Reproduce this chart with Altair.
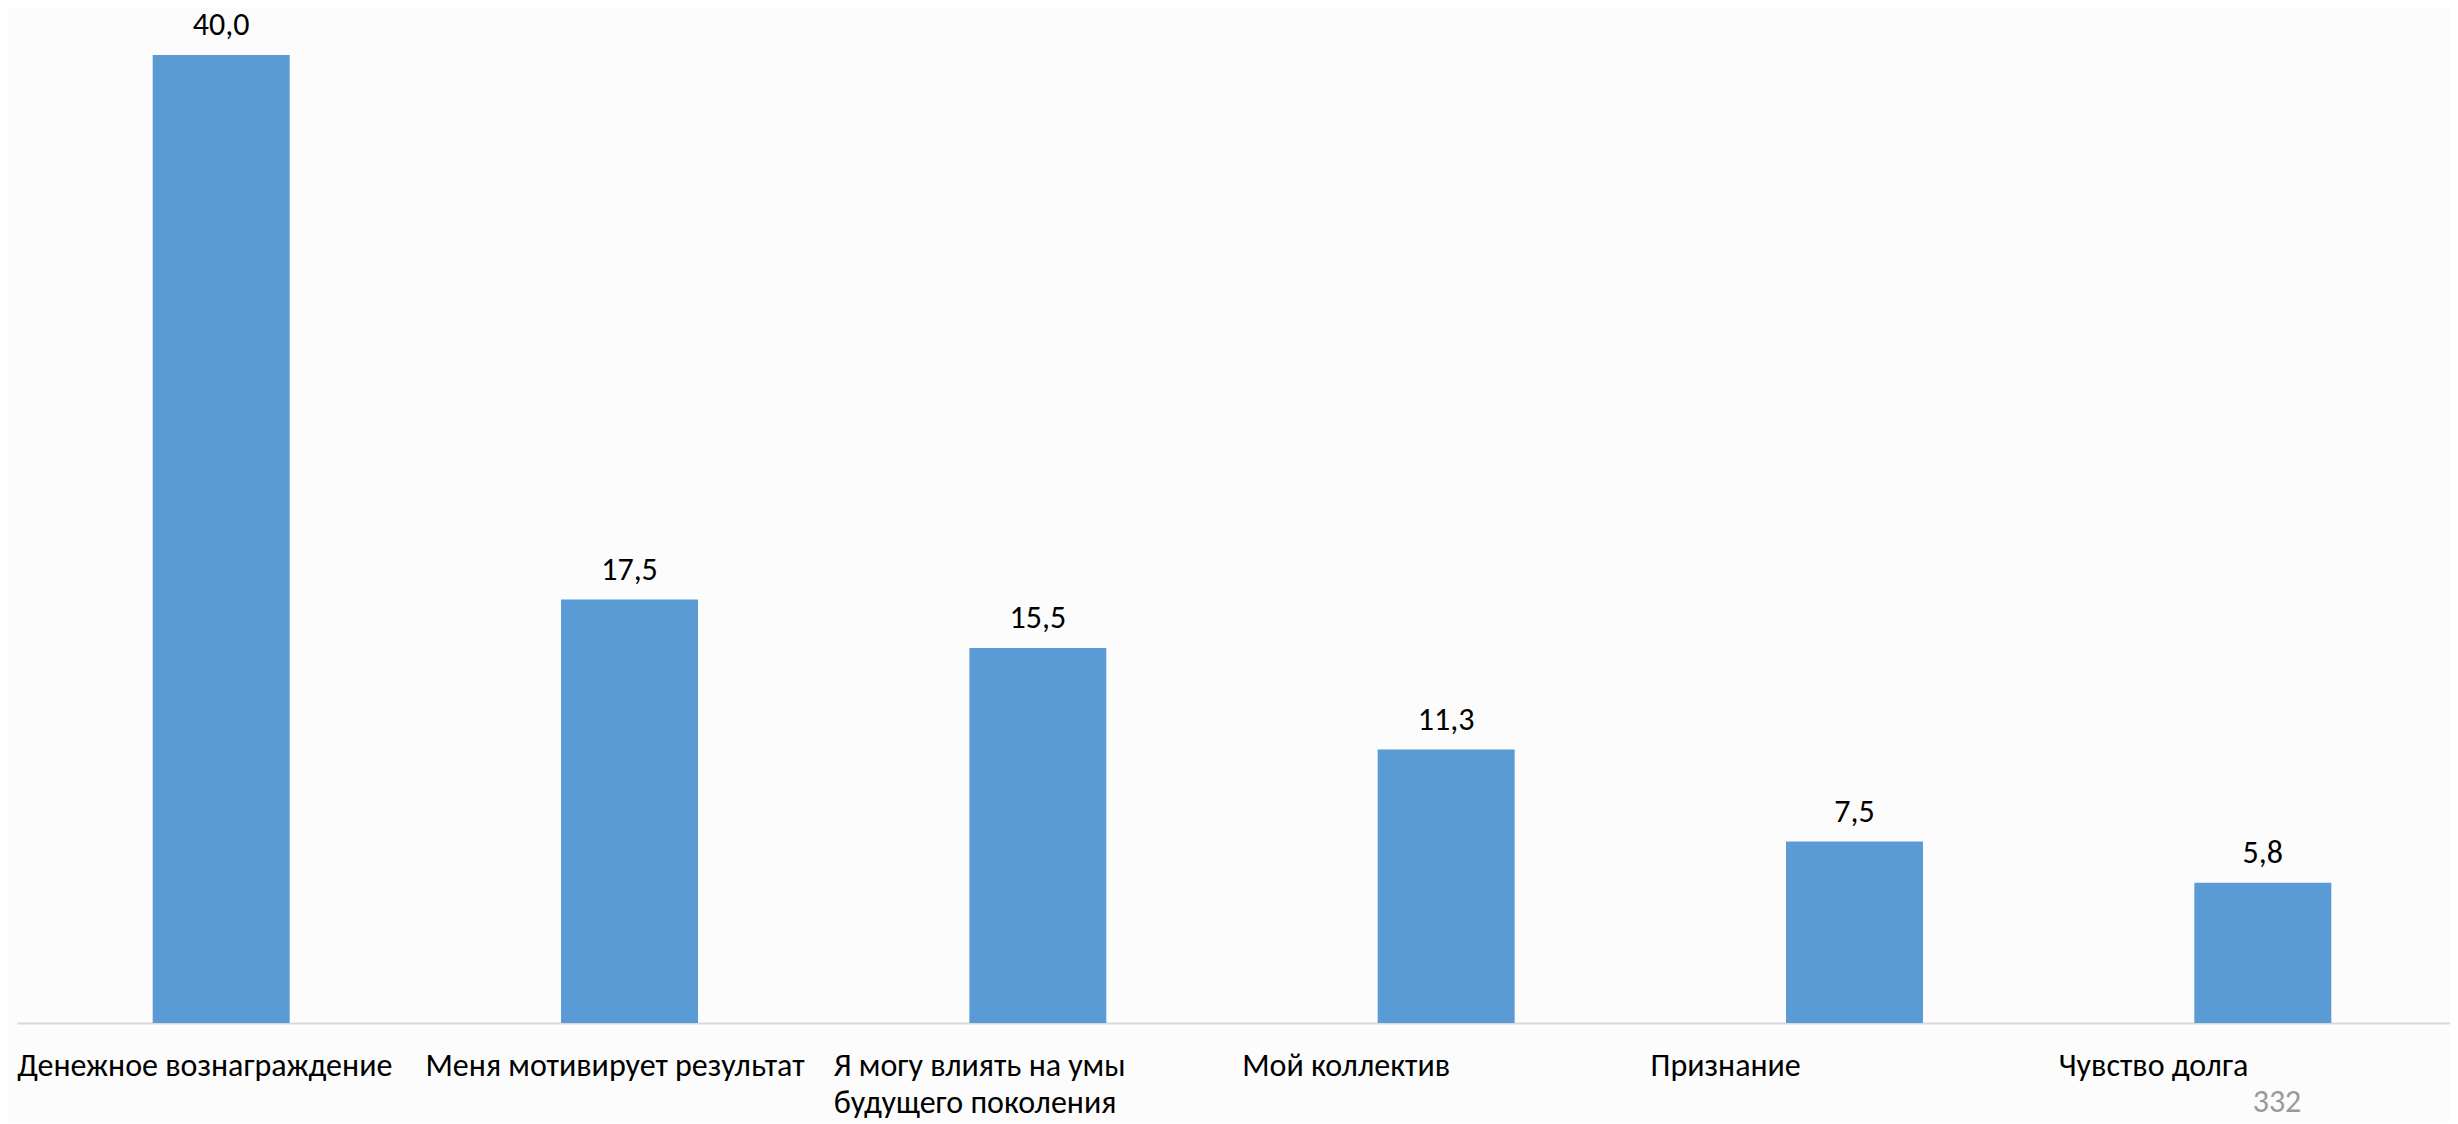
import altair as alt
import pandas as pd

categories = [
    "Денежное вознаграждение",
    "Меня мотивирует результат",
    "Я могу влиять на умы|будущего поколения",
    "Мой коллектив",
    "Признание",
    "Чувство долга",
]
values = [40.0, 17.5, 15.5, 11.3, 7.5, 5.8]
page_number = "332"

FONT = "Carlito, 'Open Sans', sans-serif"
BLUE = "#5B9BD5"
BG = "#FCFCFC"

df = pd.DataFrame({"cat": categories, "value": values})

step_px = 2450
x_scale = alt.Scale(range=[0, step_px], paddingInner=0.6645, paddingOuter=0.3323)
x_enc = alt.X(
    "cat:N",
    sort=categories,
    scale=x_scale,
    axis=alt.Axis(
        title=None,
        ticks=False,
        tickSize=0,
        domainColor="#D9D9D9",
        domainWidth=2,
        labelAngle=0,
        labelAlign="left",
        labelBaseline="alphabetic",
        labelOffset=-204,
        labelPadding=52,
        labelFont=FONT,
        labelFontSize=32,
        labelColor="#000000",
        labelLimit=0,
        labelOverlap=False,
        labelFlush=False,
        labelLineHeight=37,
        labelExpr="split(datum.label, '|')",
        grid=False,
    ),
)
y_enc = alt.Y(
    "value:Q",
    scale=alt.Scale(domain=[0, 40], nice=False, zero=True),
    axis=None,
)

base = alt.Chart(df)
bars = base.mark_bar(color=BLUE).encode(x=x_enc, y=y_enc)
labels = (
    base.transform_calculate(lbl="replace(format(datum.value, '.1f'), '.', ',')")
    .mark_text(font=FONT, fontSize=32, color="#000000", baseline="alphabetic", dy=-20)
    .encode(x=alt.X("cat:N", sort=categories, scale=x_scale), y=y_enc, text="lbl:N")
)
page = (
    alt.Chart(pd.DataFrame({"t": [page_number]}))
    .mark_text(font=FONT, fontSize=32, color="#999999", baseline="alphabetic", align="center")
    .encode(x=alt.value(2260), y=alt.value(1057), text="t:N")
)

chart = (
    alt.layer(bars, labels, page)
    .properties(
        width=2433,
        height=968,
        background=BG,
        padding={"left": 9, "top": 47, "right": 0, "bottom": 100},
        autosize=alt.AutoSizeParams(type="none"),
    )
    .configure_view(stroke=None)
)

chart.save("out.html", embed_options={"renderer": "svg", "actions": False})
